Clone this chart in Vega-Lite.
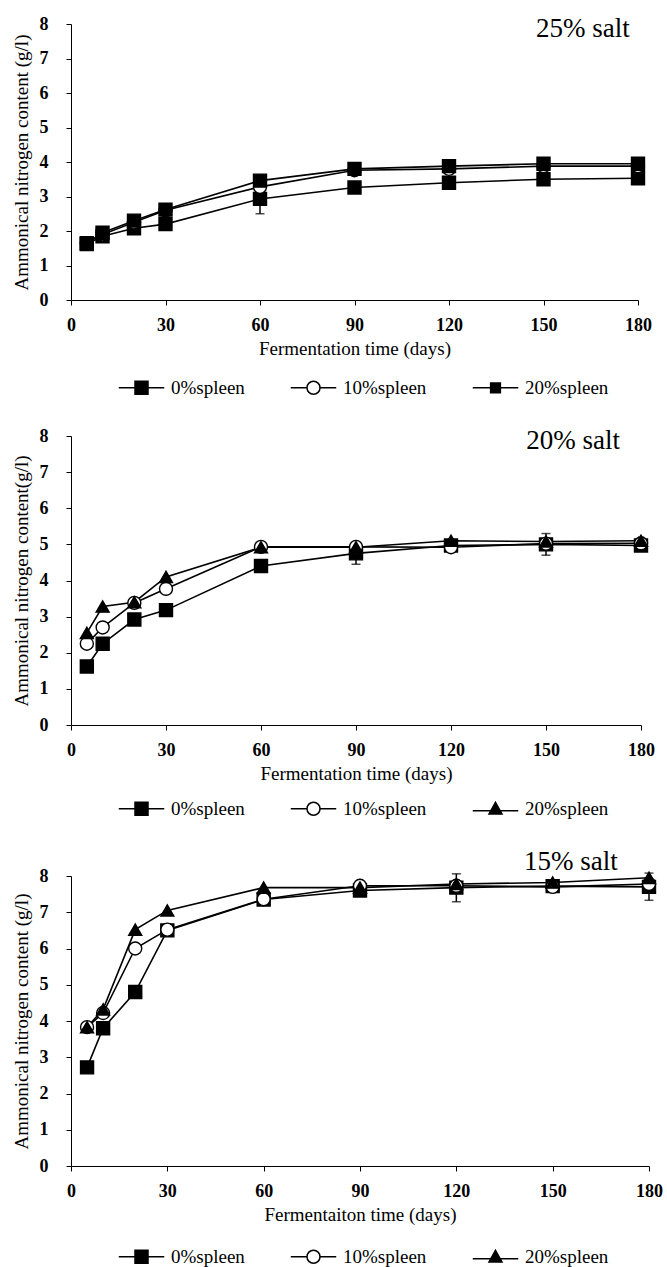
{
  "$schema": "https://vega.github.io/schema/vega-lite/v6.json",
  "background": "white",
  "padding": {"left": 11, "top": 15, "right": 0, "bottom": 5},
  "spacing": 28,
  "datasets": {
    "pts": [
      {"p": "25", "s": "0%spleen", "d": 5, "v": 1.62}, {"p": "25", "s": "0%spleen", "d": 10, "v": 1.85}, {"p": "25", "s": "0%spleen", "d": 20, "v": 2.08}, {"p": "25", "s": "0%spleen", "d": 30, "v": 2.2}, {"p": "25", "s": "0%spleen", "d": 60, "v": 2.93}, {"p": "25", "s": "0%spleen", "d": 90, "v": 3.26}, {"p": "25", "s": "0%spleen", "d": 120, "v": 3.4}, {"p": "25", "s": "0%spleen", "d": 150, "v": 3.5}, {"p": "25", "s": "0%spleen", "d": 180, "v": 3.53},
      {"p": "25", "s": "10%spleen", "d": 5, "v": 1.65}, {"p": "25", "s": "10%spleen", "d": 10, "v": 1.9}, {"p": "25", "s": "10%spleen", "d": 20, "v": 2.25}, {"p": "25", "s": "10%spleen", "d": 30, "v": 2.6}, {"p": "25", "s": "10%spleen", "d": 60, "v": 3.28}, {"p": "25", "s": "10%spleen", "d": 90, "v": 3.76}, {"p": "25", "s": "10%spleen", "d": 120, "v": 3.8}, {"p": "25", "s": "10%spleen", "d": 150, "v": 3.88}, {"p": "25", "s": "10%spleen", "d": 180, "v": 3.88},
      {"p": "25", "s": "20%spleen", "d": 5, "v": 1.65}, {"p": "25", "s": "20%spleen", "d": 10, "v": 1.95}, {"p": "25", "s": "20%spleen", "d": 20, "v": 2.3}, {"p": "25", "s": "20%spleen", "d": 30, "v": 2.62}, {"p": "25", "s": "20%spleen", "d": 60, "v": 3.46}, {"p": "25", "s": "20%spleen", "d": 90, "v": 3.8}, {"p": "25", "s": "20%spleen", "d": 120, "v": 3.88}, {"p": "25", "s": "20%spleen", "d": 150, "v": 3.95}, {"p": "25", "s": "20%spleen", "d": 180, "v": 3.95},
      {"p": "20", "s": "0%spleen", "d": 5, "v": 1.62}, {"p": "20", "s": "0%spleen", "d": 10, "v": 2.25}, {"p": "20", "s": "0%spleen", "d": 20, "v": 2.92}, {"p": "20", "s": "0%spleen", "d": 30, "v": 3.18}, {"p": "20", "s": "0%spleen", "d": 60, "v": 4.4}, {"p": "20", "s": "0%spleen", "d": 90, "v": 4.75}, {"p": "20", "s": "0%spleen", "d": 120, "v": 4.97}, {"p": "20", "s": "0%spleen", "d": 150, "v": 5.0}, {"p": "20", "s": "0%spleen", "d": 180, "v": 4.97},
      {"p": "20", "s": "10%spleen", "d": 5, "v": 2.25}, {"p": "20", "s": "10%spleen", "d": 10, "v": 2.7}, {"p": "20", "s": "10%spleen", "d": 20, "v": 3.38}, {"p": "20", "s": "10%spleen", "d": 30, "v": 3.77}, {"p": "20", "s": "10%spleen", "d": 60, "v": 4.93}, {"p": "20", "s": "10%spleen", "d": 90, "v": 4.93}, {"p": "20", "s": "10%spleen", "d": 120, "v": 4.92}, {"p": "20", "s": "10%spleen", "d": 150, "v": 5.02}, {"p": "20", "s": "10%spleen", "d": 180, "v": 5.03},
      {"p": "20", "s": "20%spleen", "d": 5, "v": 2.55}, {"p": "20", "s": "20%spleen", "d": 10, "v": 3.28}, {"p": "20", "s": "20%spleen", "d": 20, "v": 3.4}, {"p": "20", "s": "20%spleen", "d": 30, "v": 4.1}, {"p": "20", "s": "20%spleen", "d": 60, "v": 4.92}, {"p": "20", "s": "20%spleen", "d": 90, "v": 4.92}, {"p": "20", "s": "20%spleen", "d": 120, "v": 5.1}, {"p": "20", "s": "20%spleen", "d": 150, "v": 5.08}, {"p": "20", "s": "20%spleen", "d": 180, "v": 5.1},
      {"p": "15", "s": "0%spleen", "d": 5, "v": 2.72}, {"p": "15", "s": "0%spleen", "d": 10, "v": 3.8}, {"p": "15", "s": "0%spleen", "d": 20, "v": 4.8}, {"p": "15", "s": "0%spleen", "d": 30, "v": 6.5}, {"p": "15", "s": "0%spleen", "d": 60, "v": 7.35}, {"p": "15", "s": "0%spleen", "d": 90, "v": 7.6}, {"p": "15", "s": "0%spleen", "d": 120, "v": 7.68}, {"p": "15", "s": "0%spleen", "d": 150, "v": 7.72}, {"p": "15", "s": "0%spleen", "d": 180, "v": 7.7},
      {"p": "15", "s": "10%spleen", "d": 5, "v": 3.83}, {"p": "15", "s": "10%spleen", "d": 10, "v": 4.22}, {"p": "15", "s": "10%spleen", "d": 20, "v": 6.0}, {"p": "15", "s": "10%spleen", "d": 30, "v": 6.52}, {"p": "15", "s": "10%spleen", "d": 60, "v": 7.36}, {"p": "15", "s": "10%spleen", "d": 90, "v": 7.73}, {"p": "15", "s": "10%spleen", "d": 120, "v": 7.73}, {"p": "15", "s": "10%spleen", "d": 150, "v": 7.7}, {"p": "15", "s": "10%spleen", "d": 180, "v": 7.78},
      {"p": "15", "s": "20%spleen", "d": 5, "v": 3.83}, {"p": "15", "s": "20%spleen", "d": 10, "v": 4.32}, {"p": "15", "s": "20%spleen", "d": 20, "v": 6.52}, {"p": "15", "s": "20%spleen", "d": 30, "v": 7.05}, {"p": "15", "s": "20%spleen", "d": 60, "v": 7.68}, {"p": "15", "s": "20%spleen", "d": 90, "v": 7.68}, {"p": "15", "s": "20%spleen", "d": 120, "v": 7.78}, {"p": "15", "s": "20%spleen", "d": 150, "v": 7.82}, {"p": "15", "s": "20%spleen", "d": 180, "v": 7.95}
    ],
    "err": [
      {"p": "25", "s": "0%spleen", "d": 60, "lo": 2.5, "hi": 3.36},
      {"p": "20", "s": "0%spleen", "d": 90, "lo": 4.45, "hi": 5.05},
      {"p": "20", "s": "0%spleen", "d": 150, "lo": 4.7, "hi": 5.3},
      {"p": "15", "s": "0%spleen", "d": 120, "lo": 7.29, "hi": 8.06},
      {"p": "15", "s": "0%spleen", "d": 180, "lo": 7.33, "hi": 8.08}
    ]
  },
  "resolve": {"scale": {"fill": "independent", "shape": "independent", "stroke": "independent"}, "legend": {"fill": "independent", "shape": "independent", "stroke": "independent"}},
  "vconcat": [
    {
      "width": 567, "height": 276,
      "layer": [
        {"data": {"name": "pts"}, "transform": [{"filter": "datum.p === '25'"}],
         "mark": {"type": "line", "color": "black", "strokeWidth": 1.6},
         "encoding": {
           "x": {"field": "d", "type": "quantitative", "scale": {"domain": [0, 180], "nice": false}, "axis": {"values": [0, 30, 60, 90, 120, 150, 180], "title": "Fermentation time (days)"}},
           "y": {"field": "v", "type": "quantitative", "scale": {"domain": [0, 8], "nice": false}, "axis": {"values": [0, 1, 2, 3, 4, 5, 6, 7, 8], "tickCount": 9, "labelOverlap": false, "title": "Ammonical nitrogen content (g/l)"}},
           "detail": {"field": "s"}}},
        {"data": {"name": "err"}, "transform": [{"filter": "datum.p === '25'"}],
         "mark": {"type": "errorbar", "ticks": {"size": 9}, "color": "black", "thickness": 1.5},
         "encoding": {"x": {"field": "d", "type": "quantitative", "axis": {"values": [0, 30, 60, 90, 120, 150, 180], "title": "Fermentation time (days)"}}, "y": {"field": "lo", "type": "quantitative", "axis": {"values": [0, 1, 2, 3, 4, 5, 6, 7, 8], "tickCount": 9, "labelOverlap": false, "title": "Ammonical nitrogen content (g/l)"}}, "y2": {"field": "hi"}}},
        {"data": {"name": "pts"}, "transform": [{"filter": "datum.p === '25'"}],
         "mark": {"type": "point", "filled": true, "size": 169, "opacity": 1, "stroke": "black", "strokeWidth": 1.4},
         "encoding": {
           "x": {"field": "d", "type": "quantitative", "axis": {"values": [0, 30, 60, 90, 120, 150, 180], "title": "Fermentation time (days)"}},
           "y": {"field": "v", "type": "quantitative", "axis": {"values": [0, 1, 2, 3, 4, 5, 6, 7, 8], "tickCount": 9, "labelOverlap": false, "title": "Ammonical nitrogen content (g/l)"}},
           "shape": {"condition": {"test": "datum.s === '10%spleen'", "value": "circle"}, "value": "square"},
           "fill": {"condition": {"test": "datum.s === '10%spleen'", "value": "white"}, "value": "black"}}},
        {"data": {"name": "pts"}, "transform": [{"filter": "datum.p === '25'"}],
         "mark": {"type": "point", "filled": true, "opacity": 0, "strokeWidth": 1.5},
         "encoding": {
           "x": {"field": "d", "type": "quantitative", "axis": {"values": [0, 30, 60, 90, 120, 150, 180], "title": "Fermentation time (days)"}},
           "y": {"field": "v", "type": "quantitative", "axis": {"values": [0, 1, 2, 3, 4, 5, 6, 7, 8], "tickCount": 9, "labelOverlap": false, "title": "Ammonical nitrogen content (g/l)"}},
           "shape": {"field": "s", "type": "nominal", "scale": {"domain": ["0%spleen", "10%spleen", "20%spleen"], "range": ["M-3.5,0H3.5M-1,-1H1V1H-1Z", "M-3.5,0H-1M1,0H3.5M-1,0A1,1,0,1,1,1,0A1,1,0,1,1,-1,0Z", "M-3.5,0H3.5M-0.75,-0.75H0.75V0.75H-0.75Z"]},
             "legend": {"orient": "none", "legendX": 61, "legendY": 354}},
           "fill": {"field": "s", "type": "nominal", "scale": {"domain": ["0%spleen", "10%spleen", "20%spleen"], "range": ["black", "white", "black"]},
             "legend": {"orient": "none", "legendX": 61, "legendY": 354}},
           "stroke": {"field": "s", "type": "nominal", "scale": {"domain": ["0%spleen", "10%spleen", "20%spleen"], "range": ["black", "black", "black"]},
             "legend": {"orient": "none", "legendX": 61, "legendY": 354}}}},
        {"data": {"values": [{"label": "25% salt"}]},
         "mark": {"type": "text", "font": "Liberation Serif", "fontSize": 27, "color": "black"},
         "encoding": {"x": {"datum": 162.5, "type": "quantitative"}, "y": {"datum": 7.85, "type": "quantitative"}, "text": {"field": "label"}}}
      ]
    },
    {
      "width": 570, "height": 289,
      "layer": [
        {"data": {"name": "pts"}, "transform": [{"filter": "datum.p === '20'"}],
         "mark": {"type": "line", "color": "black", "strokeWidth": 1.6},
         "encoding": {
           "x": {"field": "d", "type": "quantitative", "scale": {"domain": [0, 180], "nice": false}, "axis": {"values": [0, 30, 60, 90, 120, 150, 180], "title": "Fermentation time (days)"}},
           "y": {"field": "v", "type": "quantitative", "scale": {"domain": [0, 8], "nice": false}, "axis": {"values": [0, 1, 2, 3, 4, 5, 6, 7, 8], "tickCount": 9, "labelOverlap": false, "title": "Ammonical nitrogen content(g/l)"}},
           "detail": {"field": "s"}}},
        {"data": {"name": "err"}, "transform": [{"filter": "datum.p === '20'"}],
         "mark": {"type": "errorbar", "ticks": {"size": 9}, "color": "black", "thickness": 1.5},
         "encoding": {"x": {"field": "d", "type": "quantitative", "axis": {"values": [0, 30, 60, 90, 120, 150, 180], "title": "Fermentation time (days)"}}, "y": {"field": "lo", "type": "quantitative", "axis": {"values": [0, 1, 2, 3, 4, 5, 6, 7, 8], "tickCount": 9, "labelOverlap": false, "title": "Ammonical nitrogen content(g/l)"}}, "y2": {"field": "hi"}}},
        {"data": {"name": "pts"}, "transform": [{"filter": "datum.p === '20'"}],
         "mark": {"type": "point", "filled": true, "size": 169, "opacity": 1, "stroke": "black", "strokeWidth": 1.4},
         "encoding": {
           "x": {"field": "d", "type": "quantitative", "axis": {"values": [0, 30, 60, 90, 120, 150, 180], "title": "Fermentation time (days)"}},
           "y": {"field": "v", "type": "quantitative", "axis": {"values": [0, 1, 2, 3, 4, 5, 6, 7, 8], "tickCount": 9, "labelOverlap": false, "title": "Ammonical nitrogen content(g/l)"}},
           "shape": {"condition": [{"test": "datum.s === '10%spleen'", "value": "circle"}, {"test": "datum.s === '20%spleen'", "value": "triangle-up"}], "value": "square"},
           "fill": {"condition": {"test": "datum.s === '10%spleen'", "value": "white"}, "value": "black"}}},
        {"data": {"name": "pts"}, "transform": [{"filter": "datum.p === '20'"}],
         "mark": {"type": "point", "filled": true, "opacity": 0, "strokeWidth": 1.5},
         "encoding": {
           "x": {"field": "d", "type": "quantitative", "axis": {"values": [0, 30, 60, 90, 120, 150, 180], "title": "Fermentation time (days)"}},
           "y": {"field": "v", "type": "quantitative", "axis": {"values": [0, 1, 2, 3, 4, 5, 6, 7, 8], "tickCount": 9, "labelOverlap": false, "title": "Ammonical nitrogen content(g/l)"}},
           "shape": {"field": "s", "type": "nominal", "scale": {"domain": ["0%spleen", "10%spleen", "20%spleen"], "range": ["M-3.5,0H3.5M-1,-1H1V1H-1Z", "M-3.5,0H-1M1,0H3.5M-1,0A1,1,0,1,1,1,0A1,1,0,1,1,-1,0Z", "M-3.5,0.3H3.5M0,-1L1,0.8H-1Z"]},
             "legend": {"orient": "none", "legendX": 61, "legendY": 363}},
           "fill": {"field": "s", "type": "nominal", "scale": {"domain": ["0%spleen", "10%spleen", "20%spleen"], "range": ["black", "white", "black"]},
             "legend": {"orient": "none", "legendX": 61, "legendY": 363}},
           "stroke": {"field": "s", "type": "nominal", "scale": {"domain": ["0%spleen", "10%spleen", "20%spleen"], "range": ["black", "black", "black"]},
             "legend": {"orient": "none", "legendX": 61, "legendY": 363}}}},
        {"data": {"values": [{"label": "20% salt"}]},
         "mark": {"type": "text", "font": "Liberation Serif", "fontSize": 27, "color": "black"},
         "encoding": {"x": {"datum": 158.6, "type": "quantitative"}, "y": {"datum": 7.87, "type": "quantitative"}, "text": {"field": "label"}}}
      ]
    },
    {
      "width": 578, "height": 290,
      "layer": [
        {"data": {"name": "pts"}, "transform": [{"filter": "datum.p === '15'"}],
         "mark": {"type": "line", "color": "black", "strokeWidth": 1.6},
         "encoding": {
           "x": {"field": "d", "type": "quantitative", "scale": {"domain": [0, 180], "nice": false}, "axis": {"values": [0, 30, 60, 90, 120, 150, 180], "title": "Fermentaiton time (days)"}},
           "y": {"field": "v", "type": "quantitative", "scale": {"domain": [0, 8], "nice": false}, "axis": {"values": [0, 1, 2, 3, 4, 5, 6, 7, 8], "tickCount": 9, "labelOverlap": false, "title": "Ammonical nitrogen content (g/l)"}},
           "detail": {"field": "s"}}},
        {"data": {"name": "err"}, "transform": [{"filter": "datum.p === '15'"}],
         "mark": {"type": "errorbar", "ticks": {"size": 9}, "color": "black", "thickness": 1.5},
         "encoding": {"x": {"field": "d", "type": "quantitative", "axis": {"values": [0, 30, 60, 90, 120, 150, 180], "title": "Fermentaiton time (days)"}}, "y": {"field": "lo", "type": "quantitative", "axis": {"values": [0, 1, 2, 3, 4, 5, 6, 7, 8], "tickCount": 9, "labelOverlap": false, "title": "Ammonical nitrogen content (g/l)"}}, "y2": {"field": "hi"}}},
        {"data": {"name": "pts"}, "transform": [{"filter": "datum.p === '15'"}],
         "mark": {"type": "point", "filled": true, "size": 169, "opacity": 1, "stroke": "black", "strokeWidth": 1.4},
         "encoding": {
           "x": {"field": "d", "type": "quantitative", "axis": {"values": [0, 30, 60, 90, 120, 150, 180], "title": "Fermentaiton time (days)"}},
           "y": {"field": "v", "type": "quantitative", "axis": {"values": [0, 1, 2, 3, 4, 5, 6, 7, 8], "tickCount": 9, "labelOverlap": false, "title": "Ammonical nitrogen content (g/l)"}},
           "shape": {"condition": [{"test": "datum.s === '10%spleen'", "value": "circle"}, {"test": "datum.s === '20%spleen'", "value": "triangle-up"}], "value": "square"},
           "fill": {"condition": {"test": "datum.s === '10%spleen'", "value": "white"}, "value": "black"}}},
        {"data": {"name": "pts"}, "transform": [{"filter": "datum.p === '15'"}],
         "mark": {"type": "point", "filled": true, "opacity": 0, "strokeWidth": 1.5},
         "encoding": {
           "x": {"field": "d", "type": "quantitative", "axis": {"values": [0, 30, 60, 90, 120, 150, 180], "title": "Fermentaiton time (days)"}},
           "y": {"field": "v", "type": "quantitative", "axis": {"values": [0, 1, 2, 3, 4, 5, 6, 7, 8], "tickCount": 9, "labelOverlap": false, "title": "Ammonical nitrogen content (g/l)"}},
           "shape": {"field": "s", "type": "nominal", "scale": {"domain": ["0%spleen", "10%spleen", "20%spleen"], "range": ["M-3.5,0H3.5M-1,-1H1V1H-1Z", "M-3.5,0H-1M1,0H3.5M-1,0A1,1,0,1,1,1,0A1,1,0,1,1,-1,0Z", "M-3.5,0.3H3.5M0,-1L1,0.8H-1Z"]},
             "legend": {"orient": "none", "legendX": 61, "legendY": 371}},
           "fill": {"field": "s", "type": "nominal", "scale": {"domain": ["0%spleen", "10%spleen", "20%spleen"], "range": ["black", "white", "black"]},
             "legend": {"orient": "none", "legendX": 61, "legendY": 371}},
           "stroke": {"field": "s", "type": "nominal", "scale": {"domain": ["0%spleen", "10%spleen", "20%spleen"], "range": ["black", "black", "black"]},
             "legend": {"orient": "none", "legendX": 61, "legendY": 371}}}},
        {"data": {"values": [{"label": "15% salt"}]},
         "mark": {"type": "text", "font": "Liberation Serif", "fontSize": 27, "color": "black"},
         "encoding": {"x": {"datum": 155.7, "type": "quantitative"}, "y": {"datum": 8.39, "type": "quantitative"}, "text": {"field": "label"}}}
      ]
    }
  ],
  "config": {
    "font": "Liberation Serif",
    "view": {"stroke": null},
    "axis": {"grid": false, "labelOverlap": false, "labelFont": "Liberation Serif", "labelFontSize": 18, "labelFontWeight": "bold", "labelColor": "black", "titleFont": "Liberation Serif", "titleFontSize": 19, "titleFontWeight": "normal", "titleColor": "black", "domainColor": "black", "tickColor": "black", "tickSize": 5},
    "axisX": {"labelPadding": 11, "titlePadding": 5, "labelFlush": false},
    "axisY": {"labelPadding": 18, "titlePadding": 8},
    "legend": {"direction": "horizontal", "title": null, "labelFont": "Liberation Serif", "labelFontSize": 19, "labelColor": "black", "symbolSize": 169, "symbolOpacity": 1, "symbolStrokeColor": "black", "symbolStrokeWidth": 1.5, "labelOffset": 20, "columnPadding": 42}
  }
}
